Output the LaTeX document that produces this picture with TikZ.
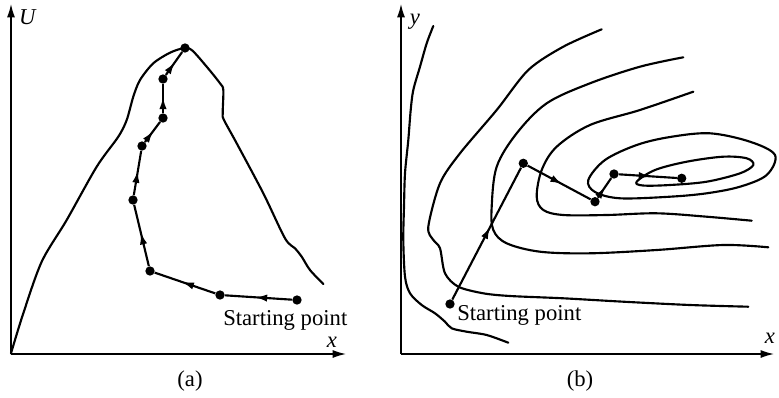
\documentclass[tikz,border=0pt]{standalone}
\usepackage{fontspec}
\setmainfont{Liberation Serif}
\usetikzlibrary{arrows.meta,decorations.markings}
\begin{document}
\begin{tikzpicture}[x=0.75pt,y=-0.75pt,
  curve/.style={line width=1.6pt, line join=round, line cap=round},
  axisline/.style={line width=1.1pt,-{Latex[length=10pt,width=6pt]}},
  dotnode/.style={circle,fill=black,inner sep=0pt,minimum size=7pt},
  midarrow/.style={line width=1.6pt, postaction={decorate},
    decoration={markings, mark=at position 0.55 with {\arrow{Latex[length=9pt,width=5.5pt]}}}},
  lbl/.style={font=\fontsize{17}{20}\selectfont, inner sep=0pt},
]
\useasboundingbox (0,0) rectangle (779,397);

% ---------- (a) ----------
\coordinate (oa) at (11,354);
\coordinate (ya) at (11,4);
\coordinate (xa) at (346,354);
\draw[axisline] (oa) -- (ya);
\draw[axisline] (oa) -- (xa);
\node[lbl] (Ua) at (28,17) {\textit{U}};
\node[lbl] (xla) at (332,342) {\textit{x}};
\node[lbl] (capa) at (190,381) {(a)};

\draw[curve] plot[smooth, tension=0.5] coordinates {
 (11,353.3) (23.3,313.3) (41.7,261.7) (66.7,220) (96.7,166.7) (118.3,136.7)
 (126.7,120) (133.3,96.7) (140,80) (153.3,63.3) (170,52.7) (183.3,48.3)
 (191.7,50) (206.7,66.7) (220,83.3) (223.3,90) (222.7,113.3) (224,120)
 (236.7,143.3) (263.3,193.3) (285,238.3) (295,248.3) (301.7,256.7) (310,270) (323.3,284)};

\node[dotnode] (a1) at (297,300) {};
\node[dotnode] (a2) at (220,295) {};
\node[dotnode] (a3) at (150,271) {};
\node[dotnode] (a4) at (133,200) {};
\node[dotnode] (a5) at (142,146) {};
\node[dotnode] (a6) at (163,118) {};
\node[dotnode] (a7) at (163,79) {};
\node[dotnode] (a8) at (185,48) {};
\draw[midarrow] (a1) -- (a2);
\draw[midarrow] (a2) -- (a3);
\draw[midarrow] (a3) -- (a4);
\draw[midarrow] (a4) -- (a5);
\draw[midarrow] (a5) -- (a6);
\draw[midarrow] (a6) -- (a7);
\draw[midarrow] (a7) -- (a8);
\node[lbl, anchor=base west] (sa) at (223,325) {Starting point};

% ---------- (b) ----------
\coordinate (ob) at (401,354);
\coordinate (yb) at (401,4);
\coordinate (xb) at (774,354);
\draw[axisline] (ob) -- (yb);
\draw[axisline] (ob) -- (xb);
\node[lbl] (ylb) at (415,22) {\textit{y}};
\node[lbl] (xlb) at (770,338) {\textit{x}};
\node[lbl] (capb) at (580,381) {(b)};

\draw[curve] plot[smooth, tension=0.5] coordinates {
 (433.3,26) (426.7,43.3) (420,66.7) (413.3,90) (410.7,110) (408.3,140)
 (405,173.3) (404,206.7) (403.3,240) (405,276.7) (410,293.3) (421.7,305)
 (435,313.3) (445,321.7) (451.7,328.3) (466.7,331.7) (486.7,335) (508.3,342.7)};

\draw[curve] plot[smooth, tension=0.5] coordinates {
 (601.7,29.3) (563.3,46.7) (528.3,70) (496.7,110) (460,153.3) (440,183.3)
 (428.3,226.7) (433.3,240) (440,248.3) (445,273.3) (458.3,286.7) (483.3,293.3)
 (510,296) (563.3,298.3) (623.3,301.7) (690,305) (748.3,306.7)};

\draw[curve] plot[smooth, tension=0.55] coordinates {
 (683.3,57.3) (640,66.7) (590,83.3) (546.7,103.3) (516.7,133.3) (496.7,166.7)
 (491.7,206.7) (493.3,230) (506.7,243.3) (540,251.7) (590,253.3) (656.7,250)
 (723.3,245) (768.3,247.3)};

\draw[curve] plot[smooth, tension=0.55] coordinates {
 (693.3,91.7) (640,110) (590,125) (556.7,146.7) (541.7,170) (536.7,196.7)
 (543.3,210) (563.3,215) (606.7,215) (656.7,213.3) (706.7,216.7) (751.7,220.7)};

\draw[curve] plot[smooth cycle, tension=0.55] coordinates {
 (588.3,180) (605,160) (636.7,145) (670,137) (710,133.3) (750,141.7) (775,155)
 (766.7,175) (740,186.7) (706.7,193.3) (670,196.7) (620,198.3) (595,192)};

\draw[curve] plot[smooth cycle, tension=0.55] coordinates {
 (636.7,181.7) (655,170) (686.7,161.7) (723,156.7) (746.7,158.3) (753.3,165)
 (740,173.3) (706.7,181.7) (670,185) (643,185.5)};

\node[dotnode] (b1) at (450,304) {};
\node[dotnode] (b2) at (523.3,163.3) {};
\node[dotnode] (b3) at (595,201.7) {};
\node[dotnode] (b4) at (614,174) {};
\node[dotnode] (b5) at (681.7,178.3) {};
\draw[midarrow] (b1) -- (b2);
\draw[midarrow] (b2) -- (b3);
\draw[midarrow] (b3) -- (b4);
\draw[midarrow] (b4) -- (b5);
\node[lbl, anchor=base west] (sb) at (457,320) {Starting point};
\end{tikzpicture}
\end{document}
